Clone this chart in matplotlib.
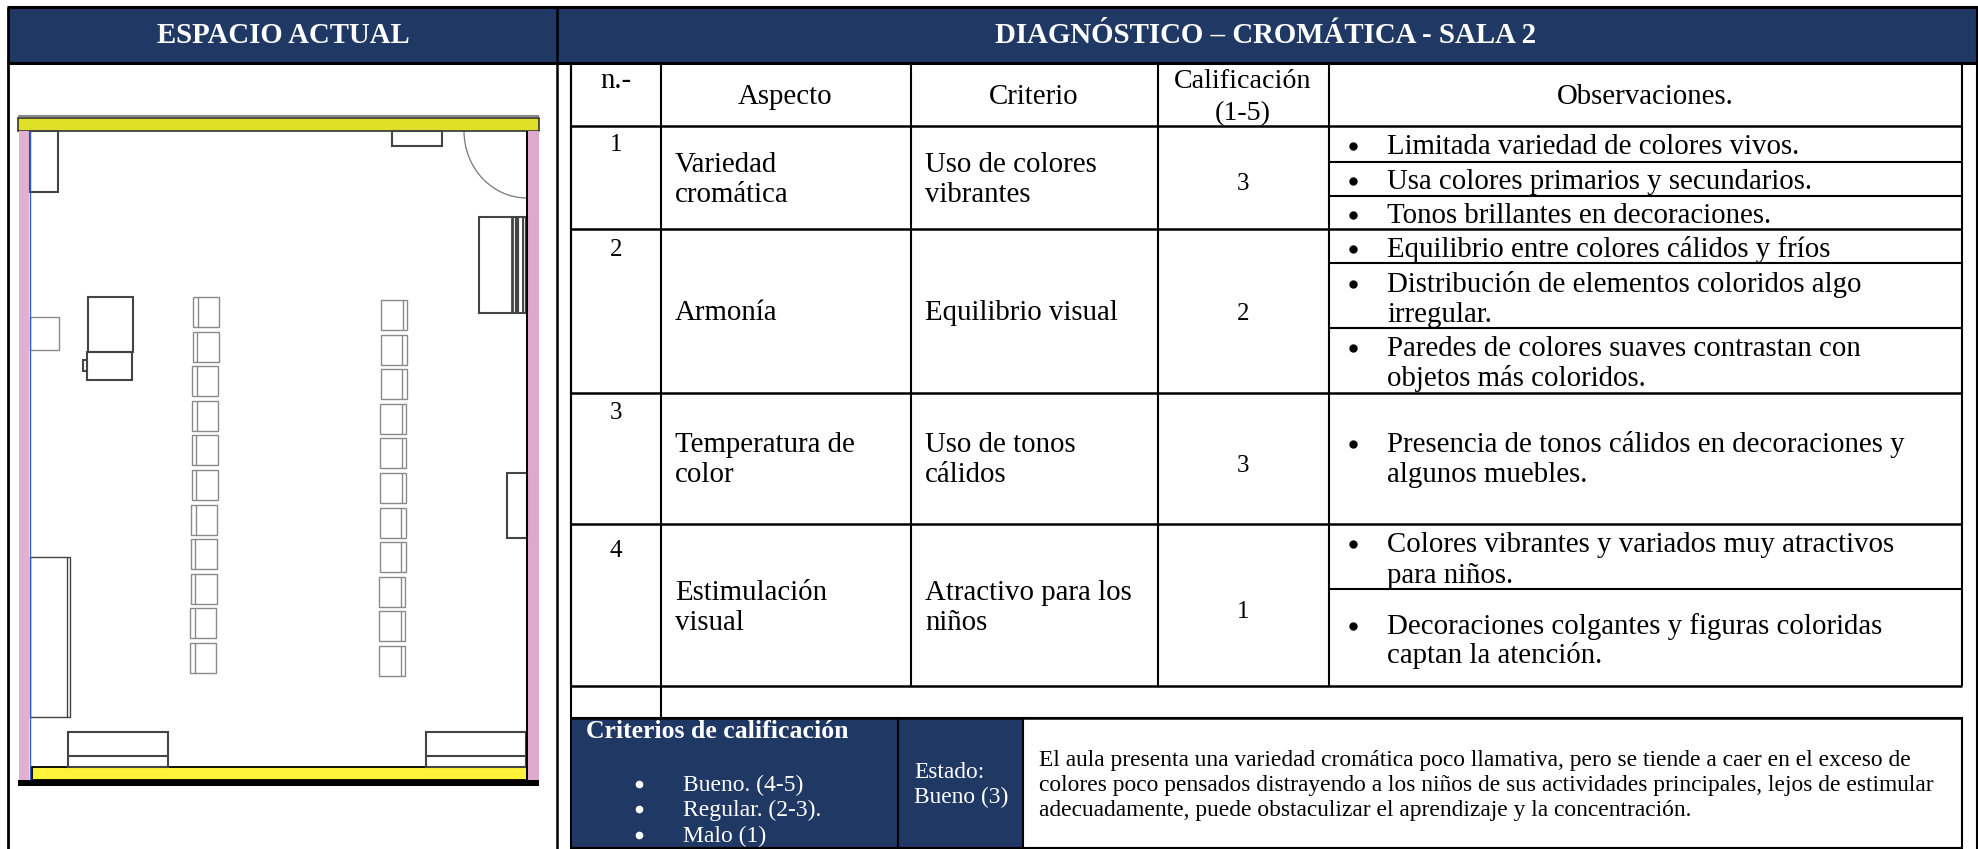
import matplotlib
matplotlib.use('Agg')
import matplotlib.pyplot as plt
from matplotlib.patches import Rectangle, Arc

plt.rcParams['font.family'] = ['Liberation Serif', 'DejaVu Serif']

NAVY = '#1f3864'

# table content
titles = ['ESPACIO ACTUAL', 'DIAGNÓSTICO – CROMÁTICA - SALA 2']
headers = ['n.-', 'Aspecto', 'Criterio', 'Calificación\n(1-5)', 'Observaciones.']
numbers = ['1', '2', '3', '4']
aspectos = [['Variedad', 'cromática'], ['Armonía'], ['Temperatura de', 'color'], ['Estimulación', 'visual']]
criterios = [['Uso de colores', 'vibrantes'], ['Equilibrio visual'], ['Uso de tonos', 'cálidos'], ['Atractivo para los', 'niños']]
notas = ['3', '2', '3', '1']
observaciones = [
    ['Limitada variedad de colores vivos.'],
    ['Usa colores primarios y secundarios.'],
    ['Tonos brillantes en decoraciones.'],
    ['Equilibrio entre colores cálidos y fríos'],
    ['Distribución de elementos coloridos algo', 'irregular.'],
    ['Paredes de colores suaves contrastan con', 'objetos más coloridos.'],
    ['Presencia de tonos cálidos en decoraciones y', 'algunos muebles.'],
    ['Colores vibrantes y variados muy atractivos', 'para niños.'],
    ['Decoraciones colgantes y figuras coloridas', 'captan la atención.'],
]
criterios_titulo = 'Criterios de calificación'
criterios_lista = ['Bueno. (4-5)', 'Regular. (2-3).', 'Malo (1)']
estado = ['Estado:', 'Bueno (3)']
conclusion = [
    'El aula presenta una variedad cromática poco llamativa, pero se tiende a caer en el exceso de',
    'colores poco pensados distrayendo a los niños de sus actividades principales, lejos de estimular',
    'adecuadamente, puede obstaculizar el aprendizaje y la concentración.',
]

# layout, in pixels of the page
col_x = [571, 661, 911, 1158, 1329, 1962]
row_y = [63, 126, 229, 393, 524, 686, 718]
obs_y = [162, 196, 263, 328, 589]
num_base = [151, 256, 419, 557]
aspecto_base = [[172, 202], [320], [452, 482], [600, 630]]
nota_base = [190, 320, 472, 618]
obs_base = [[154], [189], [223], [257], [292, 322], [356, 386], [452, 482], [552, 583], [634, 663]]
criterios_base = [791, 816, 842]
estado_base = [778, 803]
conclusion_base = [766, 791, 816]

fig = plt.figure(figsize=(19.78, 8.49), dpi=100)
ax = fig.add_axes([0, 0, 1, 1])
ax.set_xlim(0, 1978)
ax.set_ylim(849, 0)
ax.axis('off')


def box(x0, y0, x1, y1, fc='none', ec='black', lw=1.5, z=2):
    ax.add_patch(Rectangle((x0, y0), x1 - x0, y1 - y0, fc=fc, ec=ec, lw=lw, zorder=z))


def line(x0, y0, x1, y1, c='black', lw=1.5, z=3):
    ax.plot([x0, x1], [y0, y1], color=c, lw=lw, zorder=z, solid_capstyle='butt')


# header band and frame
box(8, 8, 1977, 63, fc=NAVY, ec='none')
line(7, 7, 1978, 7, lw=2.2)
line(7, 63, 1978, 63, lw=2.2)
line(8, 7, 8, 849, lw=2)
line(556.5, 7, 556.5, 849, lw=1.8)
line(1977, 7, 1977, 849, lw=1.5)
ax.text(283, 43, titles[0], color='white', fontsize=20.7, fontweight='bold', ha='center', va='baseline')
ax.text(1266, 43, titles[1], color='white', fontsize=20.8, fontweight='bold', ha='center', va='baseline')

# main table lines
for y in row_y[1:]:
    line(col_x[0], y, col_x[-1], y, lw=1.8)
for y in obs_y:
    line(col_x[4], y, col_x[-1], y, lw=1.5)
for x in col_x:
    line(x, row_y[0], x, row_y[5], lw=1.5)
line(col_x[0], row_y[0], col_x[0], row_y[6], lw=1.5)
line(col_x[1], row_y[5], col_x[1], row_y[6], lw=1.5)

fs = 20.8
for x, text, base in zip([616, 785, 1034], headers[:3], [88, 104, 104]):
    ax.text(x, base, text, fontsize=fs, ha='center', va='baseline')
cal = headers[3].split('\n')
ax.text(1243, 88, cal[0], fontsize=20.2, ha='center', va='baseline')
ax.text(1243, 120, cal[1], fontsize=20.2, ha='center', va='baseline')
ax.text(1645, 104, headers[4], fontsize=fs, ha='center', va='baseline')

for i in range(4):
    ax.text(616, num_base[i], numbers[i], fontsize=18, ha='center', va='baseline')
    for text, base in zip(aspectos[i], aspecto_base[i]):
        ax.text(675, base, text, fontsize=fs, va='baseline')
    for text, base in zip(criterios[i], aspecto_base[i]):
        ax.text(925, base, text, fontsize=fs, va='baseline')
    ax.text(1243, nota_base[i], notas[i], fontsize=18, ha='center', va='baseline')

for texts, bases in zip(observaciones, obs_base):
    ax.plot([1353], [bases[0] - 8], 'o', color='black', ms=5, zorder=4)
    for text, base in zip(texts, bases):
        ax.text(1387, base, text, fontsize=fs, va='baseline')

# bottom panel
box(571, 718, 898, 848, fc=NAVY, ec='black', lw=1.5)
box(898, 718, 1023, 848, fc=NAVY, ec='black', lw=1.5)
box(1023, 718, 1962, 848, fc='white', ec='black', lw=1.5)
ax.text(586, 738, criterios_titulo, color='white', fontsize=18.5, fontweight='bold', va='baseline')
for text, base in zip(criterios_lista, criterios_base):
    ax.plot([639], [base - 7], 'o', color='white', ms=4.5, zorder=4)
    ax.text(683, base, text, color='white', fontsize=17, va='baseline')
for text, base in zip(estado, estado_base):
    ax.text(914, base, text, color='white', fontsize=16.8, va='baseline')
for text, base in zip(conclusion, conclusion_base):
    ax.text(1039, base, text, fontsize=16.9, va='baseline')

# floor plan
GR = '#444444'
LG = '#8a8a8a'
line(18, 116, 539, 116, c='#888888', lw=1.5)
box(18, 118, 539, 131, fc='#e0e028', ec='#333333', lw=1.2)
box(19, 131, 29, 780, fc='#e3b0d3', ec='none')
box(528, 131, 539, 780, fc='#ddaacd', ec='none')
line(30, 131, 30, 780, c='#2f5fc0', lw=1)
line(527, 131, 527, 780, c='black', lw=1.4)
box(32, 767, 527, 780, fc='#fff23a', ec='black', lw=1.3)
box(18, 780, 539, 786, fc='black', ec='none')

# furniture as x0, y0, x1, y1
furniture = [
    (30, 131, 58, 192), (392, 131, 442, 146), (479, 217, 527, 313),
    (88, 297, 133, 352), (87, 352, 132, 380), (83, 360, 87, 371),
    (507, 473, 527, 538), (68, 732, 168, 767), (426, 732, 526, 767),
]
for x0, y0, x1, y1 in furniture:
    box(x0, y0, x1, y1, ec=GR, lw=1.5)
box(30, 317, 59, 350, ec=LG, lw=1)
box(30, 557, 70, 717, ec=GR, lw=1)
line(67, 557, 67, 717, c=GR, lw=1)
line(68, 756, 168, 756, c=GR, lw=1.5)
line(426, 756, 526, 756, c=GR, lw=1.5)
for x, w in [(511.5, 2), (517, 3), (522.5, 1.4), (525, 1)]:
    line(x, 217, x, 313, c=GR, lw=w)
ax.add_patch(Arc((527, 131), 126, 134, theta1=90, theta2=180, ec='#777777', lw=0.9))

# two rows of chairs, drifting a little to the left going down
for k in range(11):
    y = 297 + k * 34.6
    x = 193 - k * 0.3
    box(x, y, x + 26, y + 30, ec=LG, lw=1)
    line(x + 4.5, y, x + 4.5, y + 30, c=LG, lw=1)
    y = 300 + k * 34.6
    x = 381 - k * 0.2
    box(x, y, x + 26, y + 30, ec=LG, lw=1)
    line(x + 21.5, y, x + 21.5, y + 30, c=LG, lw=1)

fig.savefig('out.png', dpi=100, facecolor='white')
